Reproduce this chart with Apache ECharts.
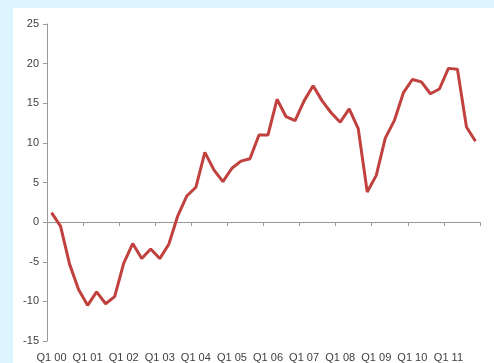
<!DOCTYPE html>
<html><head><meta charset="utf-8">
<script src="https://cdn.jsdelivr.net/npm/echarts@6/dist/echarts.min.js"></script>
<style>html,body{margin:0;padding:0;background:#dcf4fb}#c{width:494px;height:363px}</style>
</head><body><div id="c"></div>
<script>
const titleText = 'Finland 2000-2012';
const years = ['00','01','02','03','04','05','06','07','08','09','10','11'];
const categories = [];
years.forEach(y => { for (let q = 1; q <= 4; q++) categories.push('Q' + q + ' ' + y); });
const values = [1.2,-0.5,-5.3,-8.5,-10.5,-8.8,-10.3,-9.4,-5.2,-2.7,-4.6,-3.4,-4.6,-2.8,0.8,3.3,
  4.4,8.8,6.6,5.1,6.8,7.7,8.0,11.0,11.0,15.5,13.3,12.8,15.3,17.2,15.3,13.8,
  12.6,14.3,11.8,3.8,5.9,10.6,12.8,16.3,18.0,17.7,16.2,16.8,19.4,19.3,12.0,10.2];
const yTicks = {min:-15, max:25, interval:5};

const chart = echarts.init(document.getElementById('c'));
chart.setOption({
  animation:false,
  backgroundColor:'#dcf4fb',
  graphic:[{type:'rect', left:13, top:8, shape:{width:481, height:355}, style:{fill:'#ffffff'}, z:-10, silent:true}],
  title:{text:titleText, left:-2, top:-20, z:-20, textStyle:{fontFamily:'DejaVu Serif', fontWeight:'bold', fontSize:20, color:'#7fb0c2'}},
  grid:{left:47, right:14, top:24, bottom:16},
  xAxis:[
    {type:'category', data:categories, position:'bottom', boundaryGap:true,
     axisLine:{show:false, onZero:false}, axisTick:{show:false},
     axisLabel:{interval:3, margin:11, fontSize:11, color:'#404040', fontFamily:'Liberation Sans'}},
    {type:'category', data:categories, position:'top', boundaryGap:true,
     axisLine:{show:true, onZero:true, lineStyle:{color:'#9a9a9a', width:1}},
     axisTick:{show:true, interval:3, inside:true, length:4, lineStyle:{color:'#9a9a9a'}},
     axisLabel:{show:false}}
  ],
  yAxis:{type:'value', min:yTicks.min, max:yTicks.max, interval:yTicks.interval,
    axisLine:{show:true, lineStyle:{color:'#9a9a9a'}},
    axisTick:{show:true, length:4, lineStyle:{color:'#9a9a9a'}},
    splitLine:{show:false},
    axisLabel:{fontSize:11, color:'#404040', fontFamily:'Liberation Sans', margin:8}},
  series:[{type:'line', data:values, xAxisIndex:0, showSymbol:false, symbol:'none',
    lineStyle:{color:'#c0413e', width:3}, z:5}]
});
</script></body></html>
